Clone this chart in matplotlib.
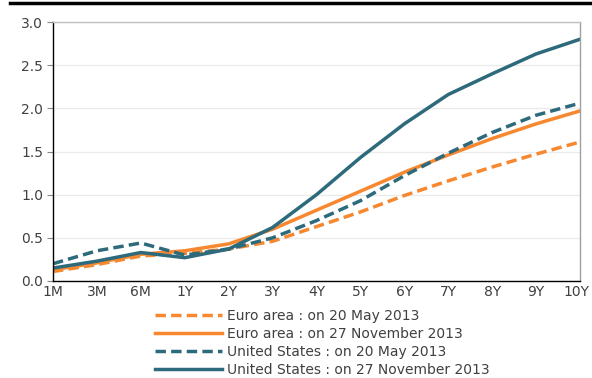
import numpy as np
import matplotlib
matplotlib.use('Agg')
import matplotlib.pyplot as plt
import matplotlib.transforms as mtransforms
from matplotlib.lines import Line2D

# Yield curves, percent
maturities = ['1M', '3M', '6M', '1Y', '2Y', '3Y', '4Y', '5Y', '6Y', '7Y', '8Y', '9Y', '10Y']
ea_may = [0.11, 0.19, 0.29, 0.32, 0.37, 0.46, 0.63, 0.80, 0.99, 1.16, 1.32, 1.47, 1.61]
ea_nov = [0.13, 0.21, 0.31, 0.35, 0.43, 0.60, 0.82, 1.04, 1.26, 1.46, 1.65, 1.82, 1.97]
us_may = [0.20, 0.35, 0.44, 0.30, 0.37, 0.50, 0.70, 0.93, 1.22, 1.48, 1.72, 1.92, 2.06]
us_nov = [0.15, 0.23, 0.33, 0.27, 0.37, 0.62, 1.00, 1.43, 1.82, 2.16, 2.40, 2.63, 2.80]
labels = ['Euro area : on 20 May 2013', 'Euro area : on 27 November 2013',
          'United States : on 20 May 2013', 'United States : on 27 November 2013']

orange = '#F7882F'
teal = '#2D6A7C'
txt = '#404040'

plt.rcParams['font.family'] = ['DejaVu Sans']
fig = plt.figure(figsize=(5.92, 3.78), dpi=100)
ax = fig.add_axes([53/592, 1 - 281/378, (580 - 53)/592, (281 - 22)/378])

x = np.arange(len(maturities))
lw = 2.5
dash = (3.0, 1.5)
ax.plot(x, ea_may, color=orange, lw=lw, dashes=dash, label=labels[0])
ax.plot(x, ea_nov, color=orange, lw=lw, label=labels[1])
ax.plot(x, us_may, color=teal, lw=lw, dashes=dash, label=labels[2])
ax.plot(x, us_nov, color=teal, lw=lw, label=labels[3])

ax.set_xlim(0, len(maturities) - 1)
ax.set_ylim(0, 3.0)
ax.set_yticks(np.arange(0, 3.01, 0.5))
ax.set_yticklabels(['%.1f' % v for v in np.arange(0, 3.01, 0.5)])
ax.set_xticks(x)
ax.set_xticklabels(maturities)
ax.tick_params(axis='both', labelsize=10, colors=txt)
ax.tick_params(axis='x', length=0, pad=3)
ax.tick_params(axis='y', length=4, width=0.8, color='#888888', pad=3)
ax.grid(axis='y', color='#EBEBEB', lw=1)
ax.set_axisbelow(True)
ax.spines['left'].set_color('black')
ax.spines['bottom'].set_color('black')
ax.spines['right'].set_color('#A0A0A0')
ax.spines['top'].set_color('#C0C0C0')
for s in ax.spines.values():
    s.set_linewidth(1)

# keep the last x label inside the figure
last = ax.get_xticklabels()[-1]
last.set_transform(last.get_transform() +
                   mtransforms.ScaledTranslation(-4/100, 0, fig.dpi_scale_trans))

fig.legend(loc='upper left', bbox_to_anchor=(155/592, 1 - 309/378), frameon=False,
           fontsize=10, labelcolor=txt, handlelength=4.8, handletextpad=0.4,
           labelspacing=0.28, borderpad=0, borderaxespad=0)

# heavy rule across the top
fig.add_artist(Line2D([10/592, 1], [1 - 3/378, 1 - 3/378], color='black', lw=2.5,
                      transform=fig.transFigure))

fig.savefig('out.png', dpi=100)
